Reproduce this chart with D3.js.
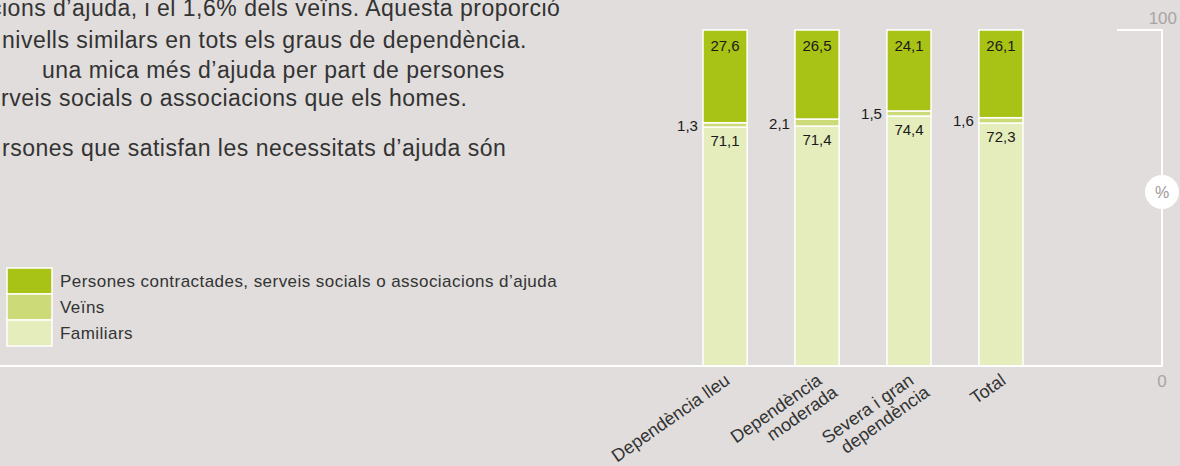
<!DOCTYPE html>
<html>
<head>
<meta charset="utf-8">
<script src="https://cdn.jsdelivr.net/npm/d3@7"></script>
<style>
  html, body { margin: 0; padding: 0; background: #e0dddc; }
  svg { display: block; font-family: "Liberation Sans", Arial, Helvetica, sans-serif; }
</style>
</head>
<body>
<svg width="1180" height="466"></svg>
<script>
const categories = [["Dependència lleu"], ["Dependència", "moderada"], ["Severa i gran", "dependència"], ["Total"]];
const familiars = [71.1, 71.4, 74.4, 72.3];
const veins = [1.3, 2.1, 1.5, 1.6];
const contractades = [27.6, 26.5, 24.1, 26.1];
const seriesNames = ["Persones contractades, serveis socials o associacions d’ajuda", "Veïns", "Familiars"];
const yTicks = [0, 100];

const bodyLines = [
  "cions d’ajuda, i el 1,6% dels veïns. Aquesta proporció",
  "nivells similars en tots els graus de dependència.",
  "una mica més d’ajuda per part de persones",
  "rveis socials o associacions que els homes.",
  "rsones que satisfan les necessitats d’ajuda són"
];

const colors = { fam: "#e4edbb", vei: "#ccdb78", con: "#a8c216" };

const svg = d3.select("svg");

// text on the left (cut off like the source page)
const bodyX = [-10, 2, 42, 1, 2];
const bodyY = [16, 48, 78, 106, 156];
svg.append("g")
  .selectAll("text")
  .data(bodyLines)
  .enter()
  .append("text")
  .attr("x", (d, i) => bodyX[i])
  .attr("y", (d, i) => bodyY[i])
  .attr("font-size", 23)
  .attr("letter-spacing", 0.5)
  .attr("fill", "#333")
  .text(d => d);

const keys = categories.map(c => c.join(" "));
const rows = keys.map((k, i) => ({ key: k, fam: familiars[i], vei: veins[i], con: contractades[i] }));

const x = d3.scaleBand()
  .domain(keys)
  .range([657, 1069])
  .paddingInner(0.52)
  .paddingOuter(0.5);

const y = d3.scaleLinear().domain([0, 100]).range([366, 30]);

const stack = d3.stack().keys(["fam", "vei", "con"]);
const layers = stack(rows);

const barG = svg.append("g");
barG.selectAll("g")
  .data(layers)
  .enter()
  .append("g")
  .attr("fill", d => colors[d.key])
  .selectAll("rect")
  .data(d => d)
  .enter()
  .append("rect")
  .attr("x", d => x(d.data.key))
  .attr("width", x.bandwidth())
  .attr("y", d => y(d[1]))
  .attr("height", d => y(d[0]) - y(d[1]))
  .attr("stroke", "#fff")
  .attr("stroke-width", 1.5);

// value labels
const fmt = v => d3.format(".1f")(v).replace(".", ",");
const lab = svg.append("g").attr("font-size", 15).attr("fill", "#1a1a1a");
lab.selectAll(".con")
  .data(rows)
  .enter()
  .append("text")
  .attr("x", d => x(d.key) + x.bandwidth() / 2)
  .attr("y", d => y(100) + 21)
  .attr("text-anchor", "middle")
  .text(d => fmt(d.con));
lab.selectAll(".fam")
  .data(rows)
  .enter()
  .append("text")
  .attr("x", d => x(d.key) + x.bandwidth() / 2)
  .attr("y", d => y(d.fam) + 19)
  .attr("text-anchor", "middle")
  .text(d => fmt(d.fam));
lab.selectAll(".vei")
  .data(rows)
  .enter()
  .append("text")
  .attr("x", d => x(d.key) - 5)
  .attr("y", d => y(d.fam + d.vei / 2) + 6)
  .attr("text-anchor", "end")
  .text(d => fmt(d.vei));

// category labels, rotated
const cat = svg.append("g")
  .selectAll("text")
  .data(categories)
  .enter()
  .append("text")
  .attr("transform", (d, i) => `translate(${x(keys[i]) + x.bandwidth() / 2 + 6},383) rotate(-35)`)
  .attr("text-anchor", "end")
  .attr("font-size", 18)
  .attr("fill", "#333");
cat.selectAll("tspan")
  .data(d => d)
  .enter()
  .append("tspan")
  .attr("x", (d, i) => i === 0 ? 0 : 6)
  .attr("dy", (d, i) => i === 0 ? 0 : "1.05em")
  .text(d => d);

// axis
const axX = 1162;
svg.append("line")
  .attr("x1", 0).attr("x2", axX)
  .attr("y1", y(0)).attr("y2", y(0))
  .attr("stroke", "#fff").attr("stroke-width", 2);
svg.append("line")
  .attr("x1", axX).attr("x2", axX)
  .attr("y1", y(0) + 1).attr("y2", y(100) - 1)
  .attr("stroke", "#fff").attr("stroke-width", 2);
svg.append("line")
  .attr("x1", 1117).attr("x2", axX + 1)
  .attr("y1", y(100)).attr("y2", y(100))
  .attr("stroke", "#fff").attr("stroke-width", 2);

svg.append("text")
  .attr("x", 1177).attr("y", y(yTicks[1]) - 6)
  .attr("text-anchor", "end")
  .attr("font-size", 17)
  .attr("fill", "#aaa4a4")
  .text(yTicks[1]);
svg.append("text")
  .attr("x", axX).attr("y", y(yTicks[0]) + 21)
  .attr("text-anchor", "middle")
  .attr("font-size", 17)
  .attr("fill", "#aaa4a4")
  .text(yTicks[0]);

svg.append("circle")
  .attr("cx", axX).attr("cy", 192)
  .attr("r", 17)
  .attr("fill", "#fff");
svg.append("text")
  .attr("x", axX).attr("y", 198)
  .attr("text-anchor", "middle")
  .attr("font-size", 16)
  .attr("fill", "#9e9898")
  .text("%");

// legend
const legColors = [colors.con, colors.vei, colors.fam];
const leg = svg.append("g").attr("transform", "translate(7,268)");
leg.selectAll("rect")
  .data(seriesNames)
  .enter()
  .append("rect")
  .attr("x", 0)
  .attr("y", (d, i) => i * 26)
  .attr("width", 45)
  .attr("height", 26)
  .attr("fill", (d, i) => legColors[i])
  .attr("stroke", "#fff")
  .attr("stroke-width", 1.5);
leg.selectAll("text")
  .data(seriesNames)
  .enter()
  .append("text")
  .attr("x", 53)
  .attr("y", (d, i) => i * 26 + 19)
  .attr("font-size", 17)
  .attr("letter-spacing", 0.45)
  .attr("fill", "#333")
  .text(d => d);
</script>
</body>
</html>
